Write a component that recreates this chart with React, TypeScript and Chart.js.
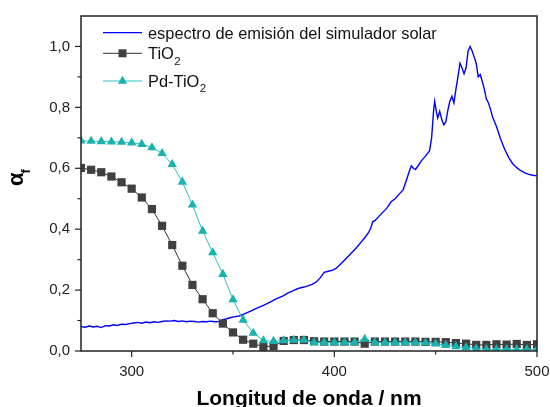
import React, { useEffect, useRef } from "react";
import { Chart, registerables } from "chart.js";

Chart.register(...registerables);

const X_MIN = 275;
const X_MAX = 500;
const Y_MIN = 0;
const Y_MAX = 1.1;

const xTickValues = [300, 350, 400, 450, 500];
const xTickLabels = ["300", "", "400", "", "500"];
const yTickValues = [0, 0.1, 0.2, 0.3, 0.4, 0.5, 0.6, 0.7, 0.8, 0.9, 1.0];
const yTickLabels = ["0,0", "", "0,2", "", "0,4", "", "0,6", "", "0,8", "", "1,0"];

const xTitle = "Longitud de onda / nm";
const yTitleMain = "α";
const yTitleSub = "f";

const legendMain = ["espectro de emisión del simulador solar", "TiO", "Pd-TiO"];
const legendSub = ["", "2", "2"];

const sampleWavelengths = [
  275, 280, 285, 290, 295, 300, 305, 310, 315, 320, 325, 330, 335, 340, 345, 350,
  355, 360, 365, 370, 375, 380, 385, 390, 395, 400, 405, 410, 415, 420, 425, 430,
  435, 440, 445, 450, 455, 460, 465, 470, 475, 480, 485, 490, 495, 500,
];

const tio2Values = [
  0.601, 0.595, 0.587, 0.573, 0.554, 0.533, 0.504, 0.466, 0.411, 0.348, 0.28, 0.217,
  0.17, 0.124, 0.09, 0.061, 0.037, 0.024, 0.014, 0.016, 0.033, 0.036, 0.036, 0.032,
  0.031, 0.031, 0.031, 0.031, 0.024, 0.031, 0.031, 0.031, 0.031, 0.031, 0.03, 0.03,
  0.029, 0.026, 0.024, 0.02, 0.02, 0.022, 0.021, 0.023, 0.02, 0.022,
];

const pdTio2Values = [
  0.69, 0.689, 0.688, 0.687, 0.686, 0.684, 0.679, 0.668, 0.649, 0.613, 0.555, 0.48,
  0.394, 0.323, 0.252, 0.169, 0.102, 0.059, 0.034, 0.032, 0.034, 0.036, 0.036, 0.028,
  0.028, 0.028, 0.028, 0.028, 0.039, 0.028, 0.028, 0.028, 0.028, 0.028, 0.027, 0.024,
  0.019, 0.015, 0.011, 0.008, 0.005, 0.005, 0.005, 0.005, 0.005, 0.005,
];

const spectrumWavelengths = [
  275, 277, 279, 281, 283, 285, 287, 289, 291, 293, 295, 297, 299, 301, 303, 305,
  307, 309, 311, 313, 315, 317, 319, 321, 323, 325, 327, 329, 331, 333, 335, 337,
  339, 341, 343, 345, 347, 349, 351, 353, 355, 357, 359, 361, 363, 365, 367, 369,
  371, 373, 375, 377, 379, 381, 383, 385, 387, 389, 391, 393, 395, 397, 399, 401,
  403, 405, 407, 409, 411, 413, 415, 417, 418, 419, 420, 422, 424, 426, 428, 430,
  432, 434, 436, 437, 438, 439, 440, 441, 443, 445, 447, 448, 449, 449.5, 450.5, 451,
  452, 453, 454, 455, 456, 457, 458, 459, 460, 461, 462, 463, 464, 465, 466, 467,
  468, 469, 470, 471, 472, 473, 474, 475, 476, 477, 478, 480, 482, 484, 486, 488,
  490, 492, 494, 496, 498, 500,
];

const spectrumValues = [
  0.08, 0.078, 0.082, 0.079, 0.081, 0.077, 0.083, 0.082, 0.086, 0.084, 0.088, 0.087,
  0.09, 0.092, 0.094, 0.091, 0.095, 0.093, 0.096, 0.094, 0.097, 0.099, 0.098, 0.1,
  0.097, 0.099, 0.096, 0.098, 0.097, 0.095, 0.097, 0.096, 0.098, 0.096, 0.097, 0.103,
  0.106, 0.11, 0.113, 0.115, 0.12, 0.126, 0.132, 0.138, 0.144, 0.15, 0.156, 0.163,
  0.17, 0.176, 0.182, 0.19, 0.196, 0.202, 0.207, 0.21, 0.214, 0.219, 0.226, 0.24,
  0.258, 0.262, 0.265, 0.272, 0.285, 0.298, 0.312, 0.326, 0.34, 0.356, 0.372, 0.39,
  0.405, 0.425, 0.428, 0.442, 0.456, 0.47, 0.49, 0.5, 0.515, 0.53, 0.57, 0.59,
  0.608, 0.6, 0.596, 0.605, 0.625, 0.64, 0.658, 0.7, 0.79, 0.82, 0.78, 0.765,
  0.787, 0.76, 0.743, 0.752, 0.79, 0.82, 0.836, 0.815, 0.86, 0.9, 0.945, 0.93,
  0.91, 0.93, 0.985, 1.0, 0.985, 0.965, 0.945, 0.9, 0.908, 0.885, 0.86, 0.828,
  0.815, 0.795, 0.77, 0.737, 0.697, 0.663, 0.636, 0.615, 0.602, 0.592, 0.585, 0.58,
  0.577, 0.575,
];

const BLUE = "#0000FF";
const GREY_LINE = "#333333";
const GREY_MARK = "#404040";
const TEAL_LINE = "#2CC2BE";
const TEAL_MARK = "#19B2AF";
const AXIS = "#222222";
const FONT = "'Liberation Sans', Arial, sans-serif";

function drawLine(ctx: CanvasRenderingContext2D, x1: number, y1: number, x2: number, y2: number) {
  ctx.beginPath();
  ctx.moveTo(x1, y1);
  ctx.lineTo(x2, y2);
  ctx.stroke();
}

const decorPlugin = {
  id: "decor",
  afterDraw(chart: any) {
    const { ctx, chartArea: a, scales } = chart;
    const xs = scales.x;
    const ys = scales.y;
    ctx.save();
    ctx.strokeStyle = AXIS;
    ctx.lineWidth = 1.5;
    ctx.strokeRect(a.left, a.top, a.right - a.left, a.bottom - a.top);
    ctx.lineWidth = 1.2;
    xTickValues.forEach((v, i) => {
      const px = xs.getPixelForValue(v);
      const len = xTickLabels[i] ? 6 : 3.5;
      drawLine(ctx, px, a.bottom, px, a.bottom + len);
    });
    yTickValues.forEach((v, i) => {
      const py = ys.getPixelForValue(v);
      const len = yTickLabels[i] ? 6 : 3.5;
      drawLine(ctx, a.left - len, py, a.left, py);
    });

    // x title
    ctx.fillStyle = "#000";
    ctx.font = `bold 21px ${FONT}`;
    ctx.textAlign = "center";
    ctx.textBaseline = "alphabetic";
    ctx.fillText(xTitle, (a.left + a.right) / 2, 405);

    // y title
    ctx.save();
    ctx.translate(23, 186);
    ctx.rotate(-Math.PI / 2);
    ctx.textAlign = "left";
    ctx.font = `bold 22px ${FONT}`;
    ctx.fillText(yTitleMain, 0, 0);
    const wa = ctx.measureText(yTitleMain).width;
    ctx.font = `bold 13px ${FONT}`;
    ctx.fillText(yTitleSub, wa - 1, 7);
    ctx.restore();

    // legend
    const rowY = [32.7, 53.3, 81];
    const colors = [BLUE, GREY_LINE, TEAL_LINE];
    const lx1 = 103;
    const lx2 = 142;
    const mx = (lx1 + lx2) / 2;
    rowY.forEach((y, i) => {
      ctx.strokeStyle = colors[i];
      ctx.lineWidth = i === 0 ? 1.3 : 1;
      drawLine(ctx, lx1, y, lx2, y);
      if (i === 1) {
        ctx.fillStyle = GREY_MARK;
        ctx.fillRect(mx - 4, y - 4, 8, 8);
      } else if (i === 2) {
        const r = 5.3;
        ctx.fillStyle = TEAL_MARK;
        ctx.beginPath();
        ctx.moveTo(mx, y - r);
        ctx.lineTo(mx + r * 0.866, y + r / 2);
        ctx.lineTo(mx - r * 0.866, y + r / 2);
        ctx.closePath();
        ctx.fill();
      }
      ctx.fillStyle = "#111";
      ctx.textAlign = "left";
      ctx.font = `16.4px ${FONT}`;
      const base = y + 5.8;
      ctx.fillText(legendMain[i], 148, base);
      if (legendSub[i]) {
        const w = ctx.measureText(legendMain[i]).width;
        ctx.font = `11.5px ${FONT}`;
        ctx.fillText(legendSub[i], 148 + w + 0.5, base + 5.5);
      }
    });
    ctx.restore();
  },
};

export default function App() {
  const ref = useRef<HTMLCanvasElement>(null);
  useEffect(() => {
    if (!ref.current) return;
    Chart.defaults.font.family = FONT;
    const chart = new Chart(ref.current, {
      type: "line",
      data: {
        datasets: [
          {
            label: legendMain[0],
            data: spectrumWavelengths.map((x, i) => ({ x, y: spectrumValues[i] })),
            borderColor: BLUE,
            borderWidth: 1.4,
            pointRadius: 0,
            tension: 0,
            order: 3,
            clip: 0,
          },
          {
            label: legendMain[1] + legendSub[1],
            data: sampleWavelengths.map((x, i) => ({ x, y: tio2Values[i] })),
            borderColor: GREY_LINE,
            borderWidth: 1,
            pointStyle: "rect",
            pointRadius: 5.8,
            pointBorderWidth: 0,
            pointBackgroundColor: GREY_MARK,
            pointBorderColor: GREY_MARK,
            tension: 0,
            order: 2,
            clip: 0,
          },
          {
            label: legendMain[2] + legendSub[2],
            data: sampleWavelengths.map((x, i) => ({ x, y: pdTio2Values[i] })),
            borderColor: TEAL_LINE,
            borderWidth: 1,
            pointStyle: "triangle",
            pointRadius: 5.4,
            pointBorderWidth: 0,
            pointBackgroundColor: TEAL_MARK,
            pointBorderColor: TEAL_MARK,
            tension: 0,
            order: 1,
            clip: 0,
          },
        ] as any,
      },
      options: {
        responsive: false,
        animation: false,
        events: [],
        layout: { padding: { top: 16, right: 13, left: 0, bottom: 0 } },
        plugins: { legend: { display: false }, tooltip: { enabled: false } },
        scales: {
          x: {
            type: "linear",
            min: X_MIN,
            max: X_MAX,
            grid: { display: false, drawTicks: false },
            border: { display: false },
            afterBuildTicks: (s: any) => {
              s.ticks = xTickValues.map((v) => ({ value: v }));
            },
            afterFit: (s: any) => {
              s.height = 56;
              s.paddingLeft = 0;
              s.paddingRight = 0;
              s.paddingTop = 0;
              s.paddingBottom = 0;
            },
            ticks: {
              autoSkip: false,
              maxRotation: 0,
              callback: (_v: any, i: number) => xTickLabels[i],
              font: { size: 15, family: FONT },
              color: "#222",
              padding: 12,
            },
          },
          y: {
            type: "linear",
            min: Y_MIN,
            max: Y_MAX,
            grid: { display: false, drawTicks: false },
            border: { display: false },
            afterBuildTicks: (s: any) => {
              s.ticks = yTickValues.map((v) => ({ value: v }));
            },
            afterFit: (s: any) => {
              s.width = 81;
              s.paddingLeft = 0;
              s.paddingRight = 0;
              s.paddingTop = 0;
              s.paddingBottom = 0;
            },
            ticks: {
              autoSkip: false,
              callback: (_v: any, i: number) => yTickLabels[i],
              font: { size: 15, family: FONT },
              color: "#222",
              padding: 11,
            },
          },
        },
      } as any,
      plugins: [decorPlugin],
    });
    return () => chart.destroy();
  }, []);
  return (
    <div style={{ position: "absolute", left: 0, top: 0, width: 550, height: 407, background: "#fff" }}>
      <canvas ref={ref} width={550} height={407} style={{ display: "block" }} />
    </div>
  );
}
